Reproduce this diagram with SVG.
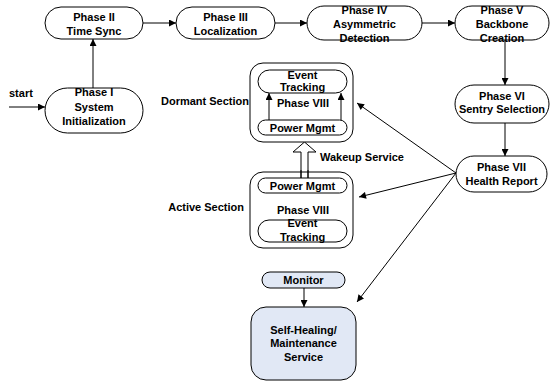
<svg xmlns="http://www.w3.org/2000/svg" width="551" height="383" viewBox="0 0 551 383">
  <style>
    text { font-family: "Liberation Sans", Arial, sans-serif; font-weight: bold; font-size: 11px; fill: #000; }
    .c { text-anchor: middle; }
    .node { fill: #fff; stroke: #000; stroke-width: 1; }
    .blue { fill: #E1E8F5; stroke: #000; stroke-width: 1; }
    .edge { fill: none; stroke: #000; stroke-width: 1; }
  </style>
  <defs>
    <marker id="arrow" viewBox="0 0 10 10" refX="10" refY="5" markerWidth="8" markerHeight="7" markerUnits="userSpaceOnUse" orient="auto">
      <path d="M0,0 L10,5 L0,10 z" fill="#000"/>
    </marker>
  </defs>
  <rect width="551" height="383" fill="#fff"/>

  <!-- connectors -->
  <g id="edges">
    <line class="edge" x1="9" y1="107" x2="45" y2="107" marker-end="url(#arrow)"/>
    <line class="edge" x1="93" y1="88" x2="93" y2="39" marker-end="url(#arrow)"/>
    <line class="edge" x1="143" y1="23" x2="176" y2="23" marker-end="url(#arrow)"/>
    <line class="edge" x1="275" y1="23" x2="307" y2="23" marker-end="url(#arrow)"/>
    <line class="edge" x1="422" y1="23" x2="455" y2="23" marker-end="url(#arrow)"/>
    <line class="edge" x1="505" y1="40" x2="505" y2="85" marker-end="url(#arrow)"/>
    <line class="edge" x1="505" y1="123" x2="505" y2="156" marker-end="url(#arrow)"/>
    <line class="edge" x1="456" y1="173" x2="357" y2="103" marker-end="url(#arrow)"/>
    <line class="edge" x1="456" y1="173" x2="359" y2="197" marker-end="url(#arrow)"/>
    <line class="edge" x1="456" y1="173" x2="357" y2="302" marker-end="url(#arrow)"/>
    <line class="edge" x1="304" y1="288" x2="304" y2="307" marker-end="url(#arrow)"/>
    <!-- wakeup block arrow -->
    <polygon class="node" points="301,178 301,152 293,152 304.5,142 316,152 308,152 308,178"/>
  </g>

  <text x="9" y="97">start</text>

  <g id="phase1">
    <rect class="node" x="45" y="88" width="98" height="45" rx="22.5"/>
    <text class="c" x="94" y="96">Phase I</text>
    <text class="c" x="94" y="111">System</text>
    <text class="c" x="94" y="125">Initialization</text>
  </g>

  <g id="phase2">
    <rect class="node" x="45" y="7" width="98" height="32" rx="16"/>
    <text class="c" x="94" y="21">Phase II</text>
    <text class="c" x="94" y="35">Time Sync</text>
  </g>

  <g id="phase3">
    <rect class="node" x="176" y="7" width="99" height="32" rx="16"/>
    <text class="c" x="225.5" y="21">Phase III</text>
    <text class="c" x="225.5" y="35">Localization</text>
  </g>

  <g id="phase4">
    <rect class="node" x="307" y="6" width="115" height="34" rx="17"/>
    <text class="c" x="364.5" y="14">Phase IV</text>
    <text class="c" x="364.5" y="28">Asymmetric</text>
    <text class="c" x="364.5" y="42">Detection</text>
  </g>

  <g id="phase5">
    <rect class="node" x="455" y="6" width="94" height="34" rx="17"/>
    <text class="c" x="502" y="14">Phase V</text>
    <text class="c" x="502" y="28">Backbone</text>
    <text class="c" x="502" y="42">Creation</text>
  </g>

  <g id="phase6">
    <rect class="node" x="455" y="85" width="94" height="38" rx="19"/>
    <text class="c" x="502" y="100">Phase VI</text>
    <text class="c" x="502" y="113">Sentry Selection</text>
  </g>

  <g id="phase7">
    <rect class="node" x="456" y="156" width="91" height="36" rx="18"/>
    <text class="c" x="501.5" y="171">Phase VII</text>
    <text class="c" x="501.5" y="185">Health Report</text>
  </g>

  <g id="dormant">
    <text x="249" y="105" text-anchor="end">Dormant Section</text>
    <rect class="node" x="250" y="63" width="103" height="79" rx="13"/>
    <rect class="node" x="258" y="70" width="89" height="23" rx="11.5"/>
    <text class="c" x="302.5" y="79">Event</text>
    <text class="c" x="302.5" y="91">Tracking</text>
    <text class="c" x="303" y="107">Phase VIII</text>
    <line class="edge" x1="269" y1="120" x2="269" y2="93" marker-end="url(#arrow)"/>
    <line class="edge" x1="341" y1="120" x2="341" y2="93" marker-end="url(#arrow)"/>
    <rect class="node" x="258" y="120" width="89" height="15" rx="7.5"/>
    <text class="c" x="302.5" y="132">Power Mgmt</text>
  </g>

  <text x="320" y="161">Wakeup Service</text>

  <g id="active">
    <text x="244" y="211" text-anchor="end">Active Section</text>
    <path class="node" d="M263,172 H340 A13,13 0 0 1 353,185 V235 A13,13 0 0 1 340,248 H263 A13,13 0 0 1 250,235 V185 A13,13 0 0 1 263,172 Z M301,172 V178 M308,172 V178"/>
    <line class="edge" x1="301" y1="170" x2="301" y2="178"/>
    <line class="edge" x1="308" y1="170" x2="308" y2="178"/>
    <rect class="node" x="258" y="178" width="89" height="15" rx="7.5"/>
    <text class="c" x="302.5" y="190">Power Mgmt</text>
    <text class="c" x="303" y="214">Phase VIII</text>
    <rect class="node" x="258" y="220" width="89" height="22" rx="11"/>
    <text class="c" x="302.5" y="227">Event</text>
    <text class="c" x="302.5" y="241">Tracking</text>
  </g>

  <g id="monitor">
    <rect class="blue" x="262" y="272" width="83" height="16" rx="8"/>
    <text class="c" x="303.5" y="284">Monitor</text>
  </g>

  <g id="selfhealing">
    <rect class="blue" x="251" y="307" width="105" height="73" rx="15"/>
    <text class="c" x="303.5" y="334">Self-Healing/</text>
    <text class="c" x="303.5" y="347">Maintenance</text>
    <text class="c" x="303.5" y="361">Service</text>
  </g>
</svg>
